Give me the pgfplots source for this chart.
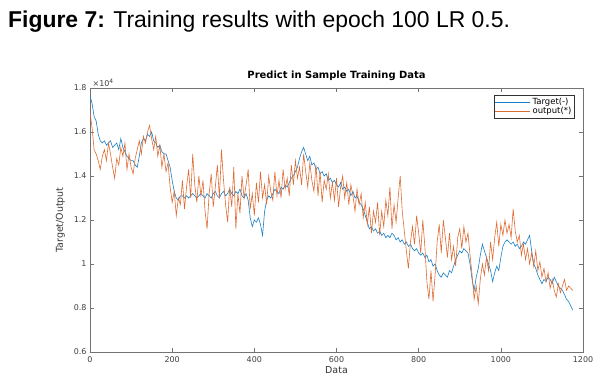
\documentclass[border=0pt]{standalone}
\usepackage{fontspec}
\setmainfont{Liberation Sans}
\newfontfamily\dv{DejaVu Sans}
\usepackage{pgfplots}
\pgfplotsset{compat=1.18}
\definecolor{mblue}{rgb}{0.1,0.5,0.77}
\definecolor{morange}{rgb}{0.87,0.42,0.2}
\begin{document}
\begin{tikzpicture}[x=1bp,y=1bp]
\useasboundingbox (0,0) rectangle (604,-381);
\node[anchor=base west, font=\fontsize{23}{26}\selectfont, inner sep=0pt] at (8,-27) {\textbf{Figure 7:} Training results with epoch 100 LR 0.5.};
\begin{axis}[
  at={(90bp,-352bp)}, anchor=south west,
  scale only axis, width=493bp, height=264bp,
  xmin=0, xmax=1200, ymin=0.6, ymax=1.8,
  xtick={0,200,400,600,800,1000,1200},
  ytick={0.6,0.8,1.0,1.2,1.4,1.6,1.8},
  yticklabels={0.6,0.8,1,1.2,1.4,1.6,1.8},
  /pgf/number format/assume math mode=true,
  /pgf/number format/1000 sep={},
  tick align=inside, tick pos=both,
  major tick length=4bp,
  axis line style={black!55, line width=0.5bp},
  every tick/.style={black!55, line width=0.5bp},
  tick label style={font=\dv\fontsize{8}{9}\selectfont, text=black!75},
  xticklabel style={yshift=-1bp},
  xlabel={Data}, ylabel={Target/Output},
  label style={font=\dv\fontsize{9.5}{11}\selectfont, text=black!80},
  xlabel style={yshift=3bp},
  ylabel style={yshift=2bp},
  title={\textbf{Predict in Sample Training Data}},
  title style={font=\dv\fontsize{10}{11}\selectfont, at={(0.5,1)}, anchor=south, yshift=-2.5bp},
  legend style={at={(0.983,0.975)}, anchor=north east, font=\dv\fontsize{8.5}{9.5}\selectfont, draw=black!80, line width=0.5bp, inner sep=1bp, row sep=-2.5bp},
  legend cell align=left,
  legend image code/.code={\draw[#1] (0bp,0bp) -- (35bp,0bp);},
  clip mode=individual,
]
\node[anchor=south west, font=\dv\fontsize{8}{9}\selectfont, text=black!75, inner sep=0pt] at (axis description cs:0.005,1.005) {×10\textsuperscript{4}};
\addplot[color=mblue, draw=mblue, line width=0.6bp] table {
0 1.764
5 1.73
10 1.67
15 1.65
20 1.59
25 1.56
30 1.55
35 1.56
40 1.54
45 1.55
50 1.56
55 1.53
60 1.54
65 1.55
70 1.52
75 1.57
80 1.53
85 1.51
90 1.49
95 1.48
100 1.47
105 1.47
110 1.45
115 1.44
120 1.49
125 1.55
130 1.57
135 1.56
140 1.59
145 1.58
150 1.60
155 1.56
160 1.55
165 1.53
170 1.54
175 1.51
180 1.50
185 1.50
190 1.47
195 1.44
200 1.38
205 1.33
210 1.30
215 1.29
220 1.31
225 1.31
230 1.30
235 1.31
240 1.30
245 1.31
250 1.32
255 1.31
260 1.30
265 1.31
270 1.32
275 1.31
280 1.30
285 1.32
290 1.31
295 1.30
300 1.32
305 1.33
310 1.31
315 1.30
320 1.32
325 1.33
330 1.31
335 1.32
340 1.34
345 1.32
350 1.31
355 1.33
360 1.32
365 1.34
370 1.31
375 1.30
380 1.32
385 1.29
390 1.21
395 1.17
400 1.20
405 1.19
410 1.21
415 1.18
420 1.13
425 1.24
430 1.29
435 1.31
440 1.30
445 1.32
450 1.34
455 1.33
460 1.32
465 1.35
470 1.34
475 1.36
480 1.35
485 1.37
490 1.39
495 1.40
500 1.42
505 1.44
510 1.48
515 1.51
520 1.53
525 1.50
530 1.47
535 1.49
540 1.45
545 1.46
550 1.43
555 1.44
560 1.41
565 1.42
570 1.40
575 1.41
580 1.38
585 1.39
590 1.37
595 1.38
600 1.36
605 1.35
610 1.37
615 1.34
620 1.35
625 1.33
630 1.34
635 1.31
640 1.33
645 1.30
650 1.31
655 1.28
660 1.27
665 1.25
670 1.22
675 1.19
680 1.16
685 1.17
690 1.15
695 1.16
700 1.14
705 1.15
710 1.13
715 1.14
720 1.12
725 1.13
730 1.12
735 1.14
740 1.13
745 1.11
750 1.12
755 1.10
760 1.11
765 1.09
770 1.10
775 1.08
780 1.09
785 1.07
790 1.06
795 1.07
800 1.05
805 1.04
810 1.05
815 1.03
820 1.04
825 1.01
830 1.02
835 0.99
840 1.00
845 0.97
850 0.95
855 0.94
860 0.96
865 0.95
870 0.94
875 0.97
880 0.96
885 0.99
890 1.02
895 1.04
900 1.06
905 1.05
910 1.07
915 1.06
920 1.05
925 1.00
930 0.93
935 0.88
940 0.94
945 0.98
950 1.04
955 1.09
960 1.06
965 1.03
970 1.00
975 0.97
980 0.92
985 0.96
990 0.99
995 0.97
1000 1.03
1005 1.08
1010 1.10
1015 1.11
1020 1.10
1025 1.09
1030 1.10
1035 1.08
1040 1.09
1045 1.07
1050 1.08
1055 1.10
1060 1.09
1065 1.11
1070 1.13
1075 1.06
1080 1.00
1085 0.98
1090 0.95
1095 0.93
1100 0.91
1105 0.93
1110 0.92
1115 0.94
1120 0.93
1125 0.91
1130 0.94
1135 0.92
1140 0.90
1145 0.89
1150 0.88
1155 0.86
1160 0.84
1165 0.83
1170 0.81
1175 0.79
};
\addlegendentry{Target(-)}
\addplot[color=morange, draw=morange, line width=0.6bp] table {
0 1.69
5 1.62
10 1.52
15 1.50
20 1.47
25 1.43
30 1.49
35 1.52
40 1.47
45 1.55
50 1.50
55 1.44
60 1.39
65 1.48
70 1.45
75 1.53
80 1.49
85 1.55
90 1.43
95 1.50
100 1.44
105 1.41
110 1.48
115 1.52
120 1.56
125 1.50
130 1.58
135 1.55
140 1.60
145 1.63
150 1.57
155 1.52
160 1.58
165 1.49
170 1.54
175 1.44
180 1.50
185 1.42
190 1.46
195 1.35
200 1.28
205 1.33
210 1.22
215 1.30
220 1.27
225 1.38
230 1.25
235 1.35
240 1.43
245 1.30
250 1.50
255 1.36
260 1.28
265 1.40
270 1.31
275 1.38
280 1.24
285 1.16
290 1.32
295 1.41
300 1.26
305 1.35
310 1.45
315 1.30
320 1.52
325 1.38
330 1.27
335 1.19
340 1.35
345 1.26
350 1.44
355 1.16
360 1.32
365 1.23
370 1.40
375 1.30
380 1.36
385 1.43
390 1.25
395 1.32
400 1.22
405 1.37
410 1.28
415 1.42
420 1.30
425 1.36
430 1.27
435 1.40
440 1.33
445 1.29
450 1.42
455 1.31
460 1.38
465 1.30
470 1.43
475 1.34
480 1.39
485 1.31
490 1.45
495 1.36
500 1.47
505 1.39
510 1.44
515 1.36
520 1.50
525 1.42
530 1.35
535 1.46
540 1.38
545 1.33
550 1.45
555 1.31
560 1.42
565 1.28
570 1.38
575 1.34
580 1.41
585 1.30
590 1.37
595 1.29
600 1.39
605 1.26
610 1.35
615 1.40
620 1.30
625 1.37
630 1.27
635 1.36
640 1.31
645 1.24
650 1.34
655 1.27
660 1.32
665 1.21
670 1.28
675 1.18
680 1.26
685 1.14
690 1.24
695 1.19
700 1.28
705 1.13
710 1.24
715 1.17
720 1.29
725 1.22
730 1.35
735 1.16
740 1.27
745 1.19
750 1.30
755 1.40
760 1.24
765 1.15
770 1.06
775 0.98
780 1.10
785 1.17
790 1.09
795 1.22
800 1.14
805 1.05
810 1.20
815 1.08
820 0.92
825 0.84
830 0.97
835 0.83
840 0.95
845 1.10
850 1.18
855 1.05
860 1.20
865 1.12
870 1.03
875 1.14
880 1.02
885 1.08
890 0.99
895 1.12
900 1.16
905 1.07
910 1.17
915 1.10
920 1.14
925 1.04
930 0.95
935 0.84
940 0.90
945 0.82
950 0.93
955 1.00
960 0.95
965 1.03
970 0.97
975 1.10
980 1.02
985 1.12
990 1.19
995 1.08
1000 1.18
1005 1.13
1010 1.20
1015 1.14
1020 1.18
1025 1.12
1030 1.25
1035 1.15
1040 1.10
1045 1.13
1050 1.04
1055 1.09
1060 1.02
1065 1.07
1070 1.00
1075 1.05
1080 0.99
1085 1.06
1090 0.97
1095 1.01
1100 0.94
1105 0.98
1110 0.92
1115 0.96
1120 0.89
1125 0.93
1130 0.88
1135 0.85
1140 0.91
1145 0.87
1150 0.90
1155 0.93
1160 0.88
1165 0.90
1170 0.89
1175 0.88
};
\addlegendentry{output(*)}
\end{axis}
\end{tikzpicture}
\end{document}
